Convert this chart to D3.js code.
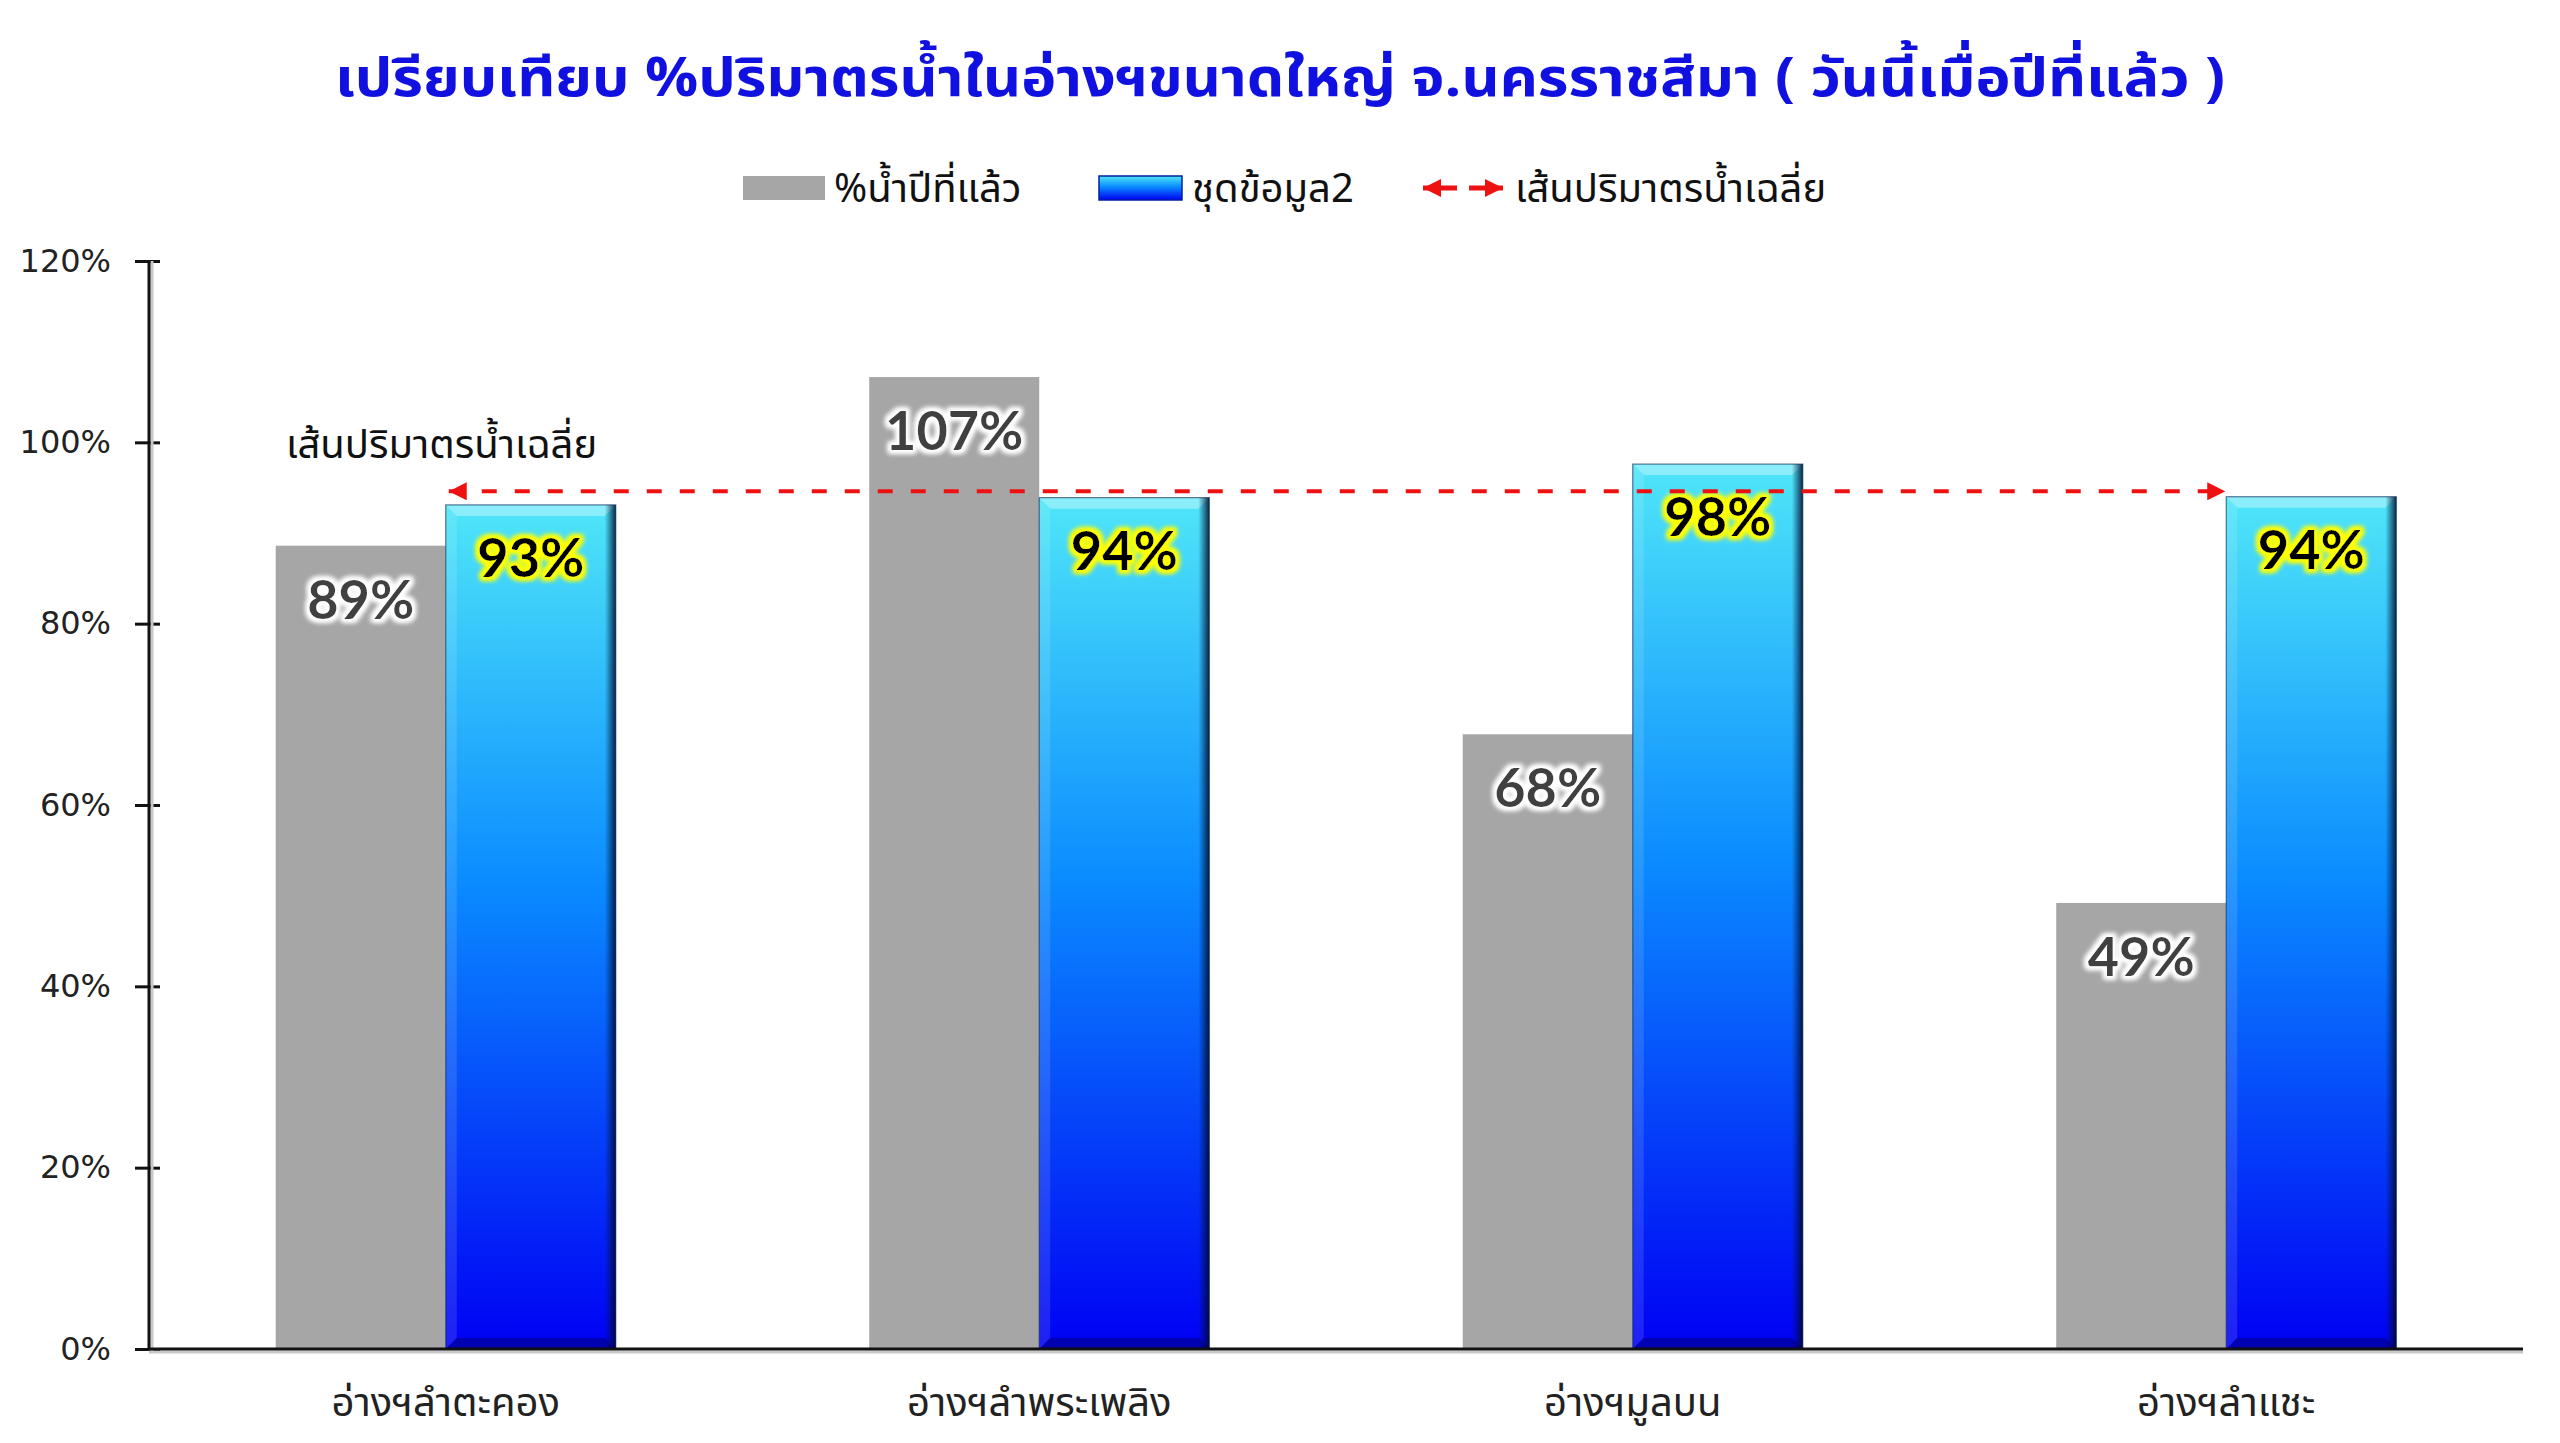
<!DOCTYPE html>
<meta charset="utf-8">
<style>
body, html {
    margin: 0;
    padding: 0;
    background: #fff;
    overflow: hidden;
}
text.thai {
    font-family: Tahoma, "Noto Sans Thai", "Noto Sans", sans-serif;
}
</style>
<svg width="2560" height="1443"></svg>
<script src="https://cdn.jsdelivr.net/npm/d3@7"></script>
<script>

// reservoirs and % storage
var categories = ["อ่างฯลำตะคอง", "อ่างฯลำพระเพลิง", "อ่างฯมูลบน", "อ่างฯลำแชะ"];
var lastYear = [88.6, 107.2, 67.8, 49.2];
var dataset2 = [93.1, 93.9, 97.6, 94.0];
var avgLevel = 94.6;
var yTicks = [0, 20, 40, 60, 80, 100, 120];
var seriesNames = ["%น้ำปีที่แล้ว", "ชุดข้อมูล2", "เส้นปริมาตรน้ำเฉลี่ย"];
var titleText = "เปรียบเทียบ %ปริมาตรน้ำในอ่างฯขนาดใหญ่ จ.นครราชสีมา ( วันนี้เมื่อปีที่แล้ว )";

var margin = {left: 149, right: 37, top: 261, bottom: 94},
    width = 2560,
    height = 1443;

var svg = d3.select("svg");
var defs = svg.append("defs");

var x = d3.scaleBand()
    .domain(categories)
    .range([margin.left, width - margin.right])
    .paddingInner(0.427)
    .paddingOuter(0.2135);

var xs = d3.scaleBand()
    .domain(["last", "now"])
    .range([0, x.bandwidth()]);

var y = d3.scaleLinear()
    .domain([0, 120])
    .range([height - margin.bottom, margin.top]);

// gradient for the blue bars
var grad = defs.append("linearGradient")
    .attr("id", "blueGrad")
    .attr("x1", 0).attr("y1", 0).attr("x2", 0).attr("y2", 1);
grad.append("stop").attr("offset", "0%").attr("stop-color", "#4fe6f8");
grad.append("stop").attr("offset", "45%").attr("stop-color", "#0a8bff");
grad.append("stop").attr("offset", "100%").attr("stop-color", "#0000f4");

var rightEdge = defs.append("linearGradient")
    .attr("id", "rightEdge")
    .attr("x1", 0).attr("y1", 0).attr("x2", 1).attr("y2", 0);
rightEdge.append("stop").attr("offset", "0%").attr("stop-color", "#001040").attr("stop-opacity", 0);
rightEdge.append("stop").attr("offset", "100%").attr("stop-color", "#000820").attr("stop-opacity", 0.85);

// glow filters for the labels
function glow(id, color, r) {
    var f = defs.append("filter").attr("id", id)
        .attr("x", "-20%").attr("y", "-30%").attr("width", "140%").attr("height", "160%");
    f.append("feMorphology").attr("in", "SourceAlpha").attr("operator", "dilate").attr("radius", r).attr("result", "d");
    f.append("feGaussianBlur").attr("in", "d").attr("stdDeviation", 2.5).attr("result", "b");
    f.append("feFlood").attr("flood-color", color);
    f.append("feComposite").attr("in2", "b").attr("operator", "in").attr("result", "g");
    var m = f.append("feMerge");
    m.append("feMergeNode").attr("in", "g");
    m.append("feMergeNode").attr("in", "g");
    m.append("feMergeNode").attr("in", "SourceGraphic");
}
glow("whiteGlow", "#ffffff", 3);
glow("yellowGlow", "#ffff00", 3);

// arrow markers
function marker(id, orient) {
    defs.append("marker")
        .attr("id", id)
        .attr("viewBox", "0 0 10 10")
        .attr("refX", 10).attr("refY", 5)
        .attr("markerUnits", "userSpaceOnUse")
        .attr("markerWidth", 18).attr("markerHeight", 18)
        .attr("orient", orient)
      .append("path")
        .attr("d", "M0,0 L10,5 L0,10 Z")
        .attr("fill", "#ee1111");
}
marker("arrowEnd", "auto");
marker("arrowStart", "auto-start-reverse");

// title
svg.append("text")
    .attr("class", "thai")
    .attr("x", width / 2)
    .attr("y", 96)
    .attr("text-anchor", "middle")
    .attr("font-size", 54)
    .attr("font-weight", "bold")
    .attr("fill", "#1010e0")
    .attr("textLength", 1890)
    .attr("lengthAdjust", "spacingAndGlyphs")
    .text(titleText);

// legend
var leg = svg.append("g").attr("class", "legend");
leg.append("rect").attr("x", 743).attr("y", 176).attr("width", 82).attr("height", 24).attr("fill", "#a6a6a6");
leg.append("rect").attr("x", 1099).attr("y", 176).attr("width", 83).attr("height", 24).attr("fill", "url(#blueGrad)");
leg.append("rect").attr("x", 1099).attr("y", 176).attr("width", 83).attr("height", 24)
    .attr("fill", "none").attr("stroke", "#0020a0").attr("stroke-width", 1.5);
leg.append("line").attr("x1", 1457).attr("x2", 1423).attr("y1", 188).attr("y2", 188)
    .attr("stroke", "#ee1111").attr("stroke-width", 5).attr("marker-end", "url(#arrowEnd)");
leg.append("line").attr("x1", 1469).attr("x2", 1503).attr("y1", 188).attr("y2", 188)
    .attr("stroke", "#ee1111").attr("stroke-width", 5).attr("marker-end", "url(#arrowEnd)");
var legX = [834, 1192, 1515];
leg.selectAll("text.lt")
    .data(seriesNames)
    .enter().append("text")
    .attr("class", "thai lt")
    .attr("x", function(d, i) { return legX[i]; })
    .attr("y", 202)
    .attr("font-size", 40)
    .attr("fill", "#111")
    .text(function(d) { return d; });

// y axis
var yAxis = d3.axisLeft(y)
    .tickValues(yTicks)
    .tickSize(0)
    .tickFormat(function(d) { return d + "%"; });

var gy = svg.append("g")
    .attr("transform", "translate(" + margin.left + ",0)")
    .call(yAxis);
gy.select(".domain").remove();
gy.selectAll(".tick text")
    .attr("x", -38)
    .attr("font-family", "Verdana, 'DejaVu Sans', sans-serif")
    .attr("font-size", 32)
    .attr("fill", "#222");
gy.selectAll(".tick").append("line")
    .attr("x1", -14).attr("x2", 11)
    .attr("stroke", "#111").attr("stroke-width", 3);

// axis lines with a soft shadow
svg.append("line")
    .attr("x1", margin.left + 3).attr("x2", margin.left + 3)
    .attr("y1", y(120)).attr("y2", y(0) + 3)
    .attr("stroke", "#c8c8c8").attr("stroke-width", 3);
svg.append("line")
    .attr("x1", margin.left).attr("x2", width - margin.right)
    .attr("y1", y(0) + 3).attr("y2", y(0) + 3)
    .attr("stroke", "#c8c8c8").attr("stroke-width", 3);

// bars
var groups = svg.selectAll("g.grp")
    .data(categories)
    .enter().append("g")
    .attr("class", "grp")
    .attr("transform", function(d) { return "translate(" + x(d) + ",0)"; });

groups.append("rect")
    .attr("x", xs("last"))
    .attr("y", function(d, i) { return y(lastYear[i]); })
    .attr("width", xs.bandwidth())
    .attr("height", function(d, i) { return y(0) - y(lastYear[i]); })
    .attr("fill", "#a6a6a6");

var bw = xs.bandwidth(), bev = 11;
groups.each(function(d, i) {
    var g = d3.select(this),
        x0 = xs("now"),
        top = y(dataset2[i]),
        bot = y(0),
        h = bot - top;
    g.append("rect")
        .attr("x", x0).attr("y", top)
        .attr("width", bw).attr("height", h)
        .attr("fill", "url(#blueGrad)");
    // top bevel
    g.append("path")
        .attr("d", "M" + x0 + "," + top + "L" + (x0 + bw) + "," + top +
            "L" + (x0 + bw - bev) + "," + (top + bev) + "L" + (x0 + bev) + "," + (top + bev) + "Z")
        .attr("fill", "#ffffff").attr("opacity", 0.35);
    // left bevel
    g.append("path")
        .attr("d", "M" + x0 + "," + top + "L" + (x0 + bev) + "," + (top + bev) +
            "L" + (x0 + bev) + "," + (bot - bev) + "L" + x0 + "," + bot + "Z")
        .attr("fill", "#ffffff").attr("opacity", 0.12);
    // right bevel
    g.append("rect")
        .attr("x", x0 + bw - bev).attr("y", top)
        .attr("width", bev).attr("height", h)
        .attr("fill", "url(#rightEdge)");
    // bottom bevel
    g.append("path")
        .attr("d", "M" + x0 + "," + bot + "L" + (x0 + bev) + "," + (bot - bev) +
            "L" + (x0 + bw - bev) + "," + (bot - bev) + "L" + (x0 + bw) + "," + bot + "Z")
        .attr("fill", "#000060").attr("opacity", 0.45);
    g.append("rect")
        .attr("x", x0).attr("y", top)
        .attr("width", bw).attr("height", h)
        .attr("fill", "none").attr("stroke", "#002050").attr("stroke-width", 1.2).attr("stroke-opacity", 0.6);
});

// x axis line
svg.append("line")
    .attr("x1", margin.left).attr("x2", width - margin.right)
    .attr("y1", y(0)).attr("y2", y(0))
    .attr("stroke", "#111").attr("stroke-width", 3);
svg.append("line")
    .attr("x1", margin.left).attr("x2", margin.left)
    .attr("y1", y(120)).attr("y2", y(0))
    .attr("stroke", "#111").attr("stroke-width", 3);

// category labels
svg.selectAll("text.cat")
    .data(categories)
    .enter().append("text")
    .attr("class", "thai cat")
    .attr("x", function(d) { return x(d) + x.bandwidth() / 2; })
    .attr("y", 1416)
    .attr("text-anchor", "middle")
    .attr("font-size", 40)
    .attr("fill", "#222")
    .text(function(d) { return d; });

// average line with arrows
svg.append("line")
    .attr("x1", x(categories[0]) + xs("now") + 3)
    .attr("x2", x(categories[categories.length - 1]) + xs("now") - 1)
    .attr("y1", y(avgLevel)).attr("y2", y(avgLevel))
    .attr("stroke", "#ee1111")
    .attr("stroke-width", 4)
    .attr("stroke-dasharray", "15,18")
    .attr("marker-start", "url(#arrowStart)")
    .attr("marker-end", "url(#arrowEnd)");

svg.append("text")
    .attr("class", "thai")
    .attr("x", 286)
    .attr("y", 458)
    .attr("font-size", 40)
    .attr("fill", "#111")
    .text(seriesNames[2]);

// value labels
groups.append("text")
    .attr("x", xs("last") + bw / 2)
    .attr("y", function(d, i) { return y(lastYear[i]) + 73; })
    .attr("text-anchor", "middle")
    .attr("font-family", "Lato, sans-serif")
    .attr("font-weight", "bold")
    .attr("font-size", 54)
    .attr("fill", "#404040")
    .attr("filter", "url(#whiteGlow)")
    .text(function(d, i) { return Math.round(lastYear[i]) + "%"; });

groups.append("text")
    .attr("x", xs("now") + bw / 2)
    .attr("y", function(d, i) { return y(dataset2[i]) + 72; })
    .attr("text-anchor", "middle")
    .attr("font-family", "Lato, sans-serif")
    .attr("font-weight", "bold")
    .attr("font-size", 54)
    .attr("fill", "#000")
    .attr("filter", "url(#yellowGlow)")
    .text(function(d, i) { return Math.round(dataset2[i]) + "%"; });

</script>
